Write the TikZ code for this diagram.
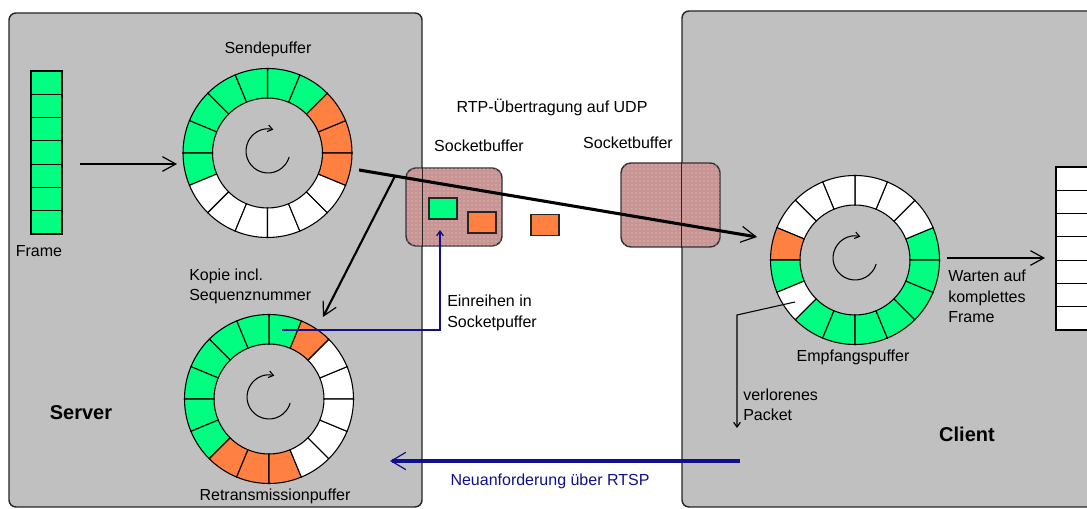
\documentclass[tikz,border=0pt]{standalone}
\usepackage{fontspec}
\setmainfont{Liberation Sans}
\usetikzlibrary{arrows.meta,calc,patterns}

% one drawing unit = one pixel of the layout grid
\newdimen\pxu \pxu=0.75pt

\definecolor{boxgray}{RGB}{192,192,192}
\definecolor{cellgreen}{RGB}{0,255,128}
\definecolor{cellorange}{RGB}{255,128,64}
\definecolor{sockfill}{RGB}{200,148,148}
\definecolor{navy}{RGB}{16,16,140}

% one cell of a ring buffer: centre, index (0..15, counter-clockwise from east), colour
\newcommand{\ringcell}[3]{%
  \draw[cellline,fill=#3] ($(#1)+({#2*22.5}:84.5)$)
    arc[start angle={#2*22.5}, delta angle=22.5, radius=84.5]
    -- ($(#1)+({(#2+1)*22.5}:55)$)
    arc[start angle={(#2+1)*22.5}, delta angle=-22.5, radius=55] -- cycle;}

% rotation sign inside a ring
\newcommand{\spin}[1]{%
  \draw[spinline] ($(#1)+(-16:22)$) arc[start angle=-16, end angle=-284, radius=22];}

\tikzset{
  panel/.style={draw=black!85, line width=1.1pt, fill=boxgray, rounded corners=7\pxu, inner sep=0pt},
  edge/.style={draw=black!85, line width=1.1pt},
  sock/.style={draw=black!80, line width=1.1pt, fill=sockfill, rounded corners=10\pxu, inner sep=0pt},
  packet/.style={draw=black!85, line width=1.3pt, inner sep=0pt, minimum width=28\pxu, minimum height=21\pxu},
  cellline/.style={draw=black, line width=0.8pt},
  spinline/.style={draw=black, line width=0.8pt, -{Straight Barb[length=3.5pt,width=5pt,line width=0.8pt]}},
  lbl/.style={font=\fontsize{12}{15.4}\selectfont, inner sep=0pt, align=left},
  title/.style={font=\fontsize{15}{18}\selectfont\bfseries, inner sep=0pt},
  bigarrow/.style={draw=black, line width=2.3pt, -{Straight Barb[length=11pt,width=12pt,line width=0.9pt]}},
  midarrow/.style={draw=black, line width=1.6pt, -{Straight Barb[length=10pt,width=11pt,line width=0.9pt]}},
  thinarrow/.style={draw=black, line width=0.8pt, -{Straight Barb[length=3.5pt,width=5pt,line width=0.9pt]}},
  bluethin/.style={draw=navy, line width=1.1pt, -{Straight Barb[length=3.5pt,width=5pt,line width=1pt]}},
  bluethick/.style={draw=navy, line width=2.8pt, -{Straight Barb[length=11pt,width=13pt,line width=0.9pt]}},
}

\begin{document}
\begin{tikzpicture}[x=0.75pt, y=0.75pt]
  \path[use as bounding box] (0,0) rectangle (1087,509);
  \clip (0,0) rectangle (1087,509);
  \fill[white] (0,0) rectangle (1087,509);

  % server and client panels
  \node[panel, minimum width=413\pxu, minimum height=494\pxu] (server) at (215.5,249) {};
  \node[panel, minimum width=428\pxu, minimum height=496\pxu] (client) at (896,250) {};

  % ring buffer centres
  \coordinate (send) at (267.5,356);
  \coordinate (retr) at (269,110);
  \coordinate (empf) at (855,249);

  % Sendepuffer
  \foreach \i/\c in {0/cellorange,1/cellorange,2/cellgreen,3/cellgreen,4/cellgreen,
                     5/cellgreen,6/cellgreen,7/cellgreen,8/cellgreen,9/white,10/white,
                     11/white,12/white,13/white,14/white,15/cellorange}
    {\ringcell{send}{\i}{\c}}
  \spin{$(send)+(0.5,2)$}

  % Retransmissionpuffer
  \foreach \i/\c in {0/white,1/white,2/cellorange,3/cellgreen,4/cellgreen,5/cellgreen,
                     6/cellgreen,7/cellgreen,8/cellgreen,9/cellgreen,10/cellorange,
                     11/cellorange,12/cellorange,13/white,14/white,15/white}
    {\ringcell{retr}{\i}{\c}}
  \spin{$(retr)+(0,2)$}

  % Empfangspuffer
  \foreach \i/\c in {0/cellgreen,1/white,2/white,3/white,4/white,5/white,6/white,
                     7/cellorange,8/cellgreen,9/white,10/cellgreen,11/cellgreen,
                     12/cellgreen,13/cellgreen,14/cellgreen,15/cellgreen}
    {\ringcell{empf}{\i}{\c}}
  \spin{$(empf)+(0,2)$}

  % frames on both sides
  \node[inner sep=0pt, minimum width=31\pxu, minimum height=163\pxu] (frameL) at (46.5,356.5) {};
  \foreach \k in {0,...,6}
    \draw[cellline, fill=cellgreen] (31,{275+\k*23.286}) rectangle (62,{275+(\k+1)*23.286});
  \node[inner sep=0pt, minimum width=54\pxu, minimum height=163\pxu] (frameR) at (1083,260.5) {};
  \foreach \k in {0,...,6}
    \draw[cellline, fill=white] (1056,{179+\k*23.286}) rectangle (1110,{179+(\k+1)*23.286});

  % socket buffers with their packets
  \node[sock, minimum width=96\pxu, minimum height=78\pxu] (sockL) at (454,302) {};
  \node[sock, minimum width=99\pxu, minimum height=84\pxu] (sockR) at (670.5,304) {};
  \fill[pattern=dots, pattern color=white!60!sockfill, rounded corners=10\pxu]
    (sockL.south west) rectangle (sockL.north east);
  \fill[pattern=dots, pattern color=white!60!sockfill, rounded corners=10\pxu]
    (sockR.south west) rectangle (sockR.north east);
  \draw[edge] (server.east |- sockL.north) -- (server.east |- sockL.south);
  \draw[edge] (client.west |- sockR.north) -- (client.west |- sockR.south);
  \node[packet, fill=cellgreen]  (pkG) at (443,300.5) {};
  \node[packet, fill=cellorange] (pkO) at (482,286.5) {};
  \node[packet, fill=cellorange] (pkT) at (545,284) {};

  % connector end points
  \coordinate (frameout) at (80,345);
  \coordinate (sendin) at (177,345);
  \coordinate (sendout) at (359,339);
  \coordinate (empfin) at (757,272);
  \coordinate (fork) at ($(sendout)!0.0905!(empfin)$);
  \coordinate (retrin) at (323,192);
  \coordinate (empfout) at (947,251);
  \coordinate (framein) at (1045,251);
  \coordinate (copystart) at (282,179);
  \coordinate (queuetip) at (440,279);
  \coordinate (loststart) at (795,207);
  \coordinate (lostbend) at (737,194);
  \coordinate (losttip) at (737,81);
  \coordinate (reqstart) at (740,48);
  \coordinate (reqtip) at (390,48);

  % data flow
  \draw[midarrow] (frameout) -- (sendin);
  \draw[bigarrow] (sendout) -- (empfin);
  \draw[midarrow] (fork) -- (retrin);
  \draw[midarrow] (empfout) -- (framein);
  \draw[bluethin] (copystart) -| (queuetip);
  \draw[thinarrow] (loststart) -- (lostbend) -- (losttip);
  \draw[bluethick] (reqstart) -- (reqtip);

  % labels
  \node[lbl] (tSend) at (268,460) {Sendepuffer};
  \node[lbl] (tFrameL) at (39,258) {Frame};
  \node[lbl, anchor=west] (tCopy) at (189,222.5) {Kopie incl.\\Sequenznummer};
  \node[title] (tServer) at (81,96) {Server};
  \node[lbl] (tRetr) at (275,13) {Retransmissionpuffer};
  \node[lbl] (tRTP) at (552,402) {RTP-Übertragung auf UDP};
  \node[lbl] (tSockL) at (479,363) {Socketbuffer};
  \node[lbl] (tSockR) at (628,366) {Socketbuffer};
  \node[lbl, anchor=west] (tQueue) at (447,196) {Einreihen in\\Socketpuffer};
  \node[lbl, anchor=west] (tWait) at (948,212.5) {Warten auf\\komplettes\\Frame};
  \node[lbl] (tEmpf) at (853,152) {Empfangspuffer};
  \node[lbl, anchor=west] (tLost) at (743,104) {verlorenes\\Packet};
  \node[title] (tClient) at (967,75) {Client};
  \node[lbl, text=navy] (tReq) at (550,28) {Neuanforderung über RTSP};
\end{tikzpicture}
\end{document}
